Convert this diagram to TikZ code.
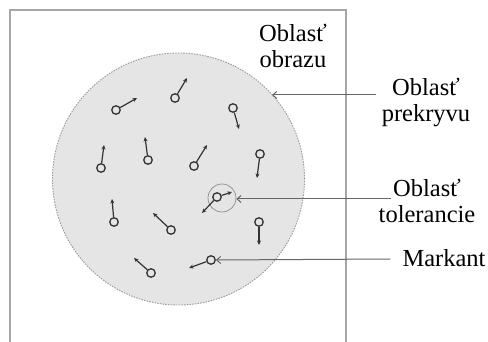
\documentclass[tikz,border=0pt]{standalone}
\usepackage{fontspec}
\setmainfont{Liberation Serif}
\usetikzlibrary{arrows.meta}
\begin{document}
\begin{tikzpicture}[x=1pt,y=-1pt,
  frame/.style={draw=black!35,line width=1.4pt},
  overlap/.style={fill=black!10,draw=black!40,dash pattern=on 1.5pt off 1.2pt,line width=0.9pt},
  mk/.style={circle,draw=black!80,line width=1.3pt,minimum size=8.5pt,inner sep=0pt},
  dirarrow/.style={draw=black!80,line width=1.2pt,-{Stealth[length=4.5pt,width=4pt]}},
  tol/.style={circle,draw=black!45,line width=0.7pt,minimum size=28pt,inner sep=0pt},
  lab/.style={font=\fontsize{24.5}{26.5}\selectfont,align=center,inner sep=0pt,text=black},
  conn/.style={draw=black!60,line width=1pt,-{Straight Barb[length=4pt,width=7pt]}}]
\useasboundingbox (0,0) rectangle (488,342);
\fill[white] (0,0) rectangle (488,342);
% image frame, open at the bottom
\draw[frame] (10,345) -- (10,10) -- (346,10) -- (346,345);
% overlap area
\node[overlap,circle,minimum size=252pt,inner sep=0pt] (ov) at (178.5,179) {};
% tolerance circle
\node[tol] (tc) at (222,198) {};
% markers
\node[mk] (m1) at (116,110) {}; \coordinate (t1) at (137,98);
\node[mk] (m2) at (175,98) {};  \coordinate (t2) at (187,78);
\node[mk] (m3) at (233,108) {}; \coordinate (t3) at (239,129);
\node[mk] (m4) at (101,168) {}; \coordinate (t4) at (104,145);
\node[mk] (m5) at (148,160) {}; \coordinate (t5) at (145,137);
\node[mk] (m6) at (194,166) {}; \coordinate (t6) at (207,145);
\node[mk] (m7) at (260,154) {}; \coordinate (t7) at (257,178);
\node[mk] (m8) at (114,222) {}; \coordinate (t8) at (112,199);
\node[mk] (m9) at (171,230) {}; \coordinate (t9) at (153,213);
\node[mk] (m10) at (217,197) {}; \coordinate (t10) at (202,213); \coordinate (t10b) at (232,192);
\node[mk] (m11) at (259,222) {}; \coordinate (t11) at (259,245);
\node[mk] (m12) at (211,260) {}; \coordinate (t12) at (189,268);
\node[mk] (m13) at (151,273) {}; \coordinate (t13) at (134,258);
\foreach \i in {1,...,13} {\draw[dirarrow] (m\i) -- (t\i);}
\draw[dirarrow] (m10) -- (t10b);
% labels
\node[lab,anchor=base] (lobr) at (293,68) {Oblasť\\obrazu};
\node[lab,anchor=base] (lpre) at (426,122) {Oblasť\\prekryvu};
\node[lab,anchor=base] (ltol) at (427,223) {Oblasť\\tolerancie};
\node[lab,anchor=base] (lmar) at (444,266) {Markant};
% connectors
\coordinate (cp) at (272,95);
\draw[conn] (lpre.west |- 0,95) ++(-6,0) -- (cp);
\draw[conn] (ltol.west |- 0,199) ++(12,0) -- (tc.east |- 0,199);
\draw[conn] (lmar.west |- 0,259) ++(-12,0) -- (m12.east);
\end{tikzpicture}
\end{document}
